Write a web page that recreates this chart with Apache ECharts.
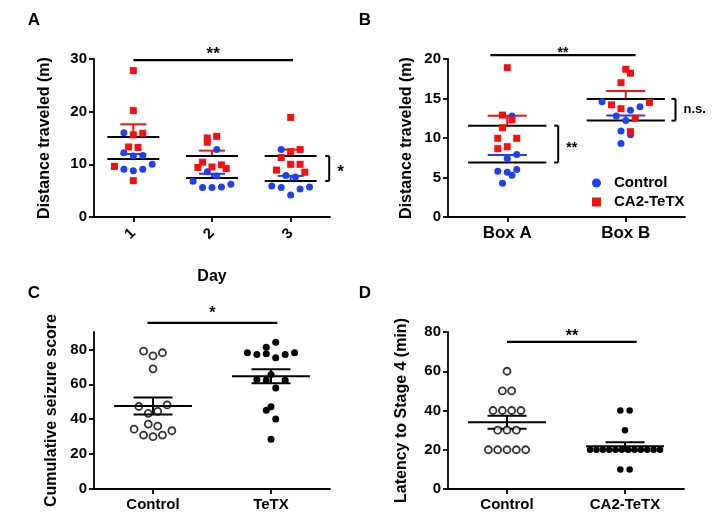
<!DOCTYPE html>
<html><head><meta charset="utf-8">
<script src="https://cdn.jsdelivr.net/npm/echarts@6/dist/echarts.min.js"></script>
<style>html,body{margin:0;padding:0;background:#fff}#c{width:724px;height:528px}</style>
</head><body><div id="c"></div>
<script>
const FONT = '"Liberation Sans", Arial, Helvetica, sans-serif';
const BLUE = '#1f3ff5', RED = '#f50f0f', BLACK = '#000';

// ---------- Panel A : distance traveled per day ----------
const daysA = ['1', '2', '3'];
const aCtrl = [
  [16.0, 12.2, 11.6, 11.7, 10.0, 9.05, 8.8, 9.05],
  [12.8, 8.6, 7.8, 6.8, 5.6, 5.6, 5.7, 6.2],
  [12.8, 7.9, 7.6, 5.9, 5.6, 4.2, 5.3, 5.7]
];
const aCtrlSlot = [
  [-1, -1, 0, 1, 2, -1, 0, 1],
  [0.5, -0.5, 0.5, -2, -1, 0, 1, 2],
  [-1, -0.5, 0.5, -2, -1, 0, 1, 2]
];
const aTetx = [
  [27.8, 20.2, 15.6, 15.9, 13.3, 13.2, 9.6, 6.9],
  [15.0, 14.2, 15.3, 10.4, 9.5, 9.9, 9.4, 9.2],
  [18.9, 12.8, 12.4, 11.3, 10.0, 10.0, 8.9, 8.5]
];
const aTetxSlot = [
  [0, 0, 0, 1, -0.5, 0.5, -2, 0],
  [-0.5, -0.5, 0.5, -1, 0, 1, -1.5, 1.5],
  [0, 1, 0, -1, 0, 1, -1.5, 1.5]
];
const aCtrlMean = [11.0, 7.4, 6.85], aCtrlSem = [0.95, 0.8, 0.95];
const aTetxMean = [15.2, 11.6, 11.6], aTetxSem = [2.4, 1.0, 1.2];

// ---------- Panel B : distance per box ----------
const boxesB = ['Box A', 'Box B'];
const bCtrl = [
  [12.8, 7.4, 7.9, 5.8, 5.65, 5.3, 6.0, 4.26],
  [14.6, 13.96, 13.5, 12.8, 12.2, 10.9, 10.4, 9.3]
];
const bCtrlSlot = [
  [0.5, 0, 1, -1, 0, 0.5, 1, -0.5],
  [-2.5, 1.5, 0.5, -1, 0, -0.5, 0.5, -0.5]
];
const bTetx = [
  [18.9, 12.9, 12.3, 11.3, 9.96, 9.96, 8.65, 8.9],
  [18.7, 18.2, 17.0, 14.5, 14.2, 13.7, 12.5, 10.8]
];
const bTetxSlot = [
  [0, -0.5, 0.5, -0.5, -1, 1, -1, 0],
  [0, 0.5, -0.5, 2.5, -1.5, -0.5, 1, 0.5]
];
const bCtrlMean = [6.9, 12.2], bCtrlSem = [0.95, 0.65];
const bTetxMean = [11.56, 14.95], bTetxSem = [1.25, 1.0];

// ---------- Panel C : cumulative seizure score ----------
const groupsC = ['Control', 'TeTX'];
const cCtrl = [79.0, 76.3, 78.1, 68.9, 47.3, 48.2, 43.4, 44.5, 37.2, 36.1, 34.3, 30.9, 30.0, 30.9, 33.4];
const cCtrlSlot = [-1, 0, 1, 0, -1.5, 1.5, -0.5, 0.5, -0.5, 0.5, -2, -1, 0, 1, 2];
const cTetx = [84.1, 81.3, 78.1, 77.1, 77.5, 75.2, 77.1, 78.1, 65.7, 62.8, 62.3, 62.3, 57.9, 47.1, 45.2, 40.1, 28.5];
const cTetxSlot = [0.5, -0.5, -2.5, -1.5, -0.5, 0.5, 1.5, 2.5, 0, -1.5, -0.5, 1.5, 0.5, 0, -0.5, 0.5, 0];
const cMean = [47.6, 64.6], cSem = [4.85, 4.05];

// ---------- Panel D : latency to stage 4 ----------
const groupsD = ['Control', 'CA2-TeTX'];
const dCtrl = [60, 50, 50, 40, 40, 40, 40, 30, 30, 30, 20, 20, 20, 20, 20];
const dCtrlSlot = [0, -0.5, 0.5, -1.5, -0.5, 0.5, 1.5, -1, 0, 1, -2, -1, 0, 1, 2];
const dTetx = [40, 40, 30, 20, 20, 20, 20, 20, 20, 20, 20, 20, 20, 20, 20, 10, 10];
const dTetxSlot = [-0.5, 0.5, 0, -3.75, -3.07, -2.39, -1.7, -1.02, -0.34, 0.34, 1.02, 1.7, 2.39, 3.07, 3.75, -0.5, 0.5];
const dMean = [34.0, 21.8], dSem = [3.35, 2.0];

// ---------- helpers ----------
function pts(cat, vals, slots, step) { return vals.map((v, i) => [cat + slots[i] * step, v]); }

function xAx(gi, cats, fontSize, margin, extra) {
  const idx = cats.map((_, i) => i);
  return Object.assign({
    type: 'value', gridIndex: gi, min: -0.5, max: cats.length - 0.5,
    axisLine: { show: true, onZero: false, lineStyle: { color: BLACK, width: 1.8 } },
    axisTick: { show: true, customValues: idx, length: 5, lineStyle: { color: BLACK, width: 1.8 } },
    axisLabel: { customValues: idx, formatter: v => cats[Math.round(v)], color: BLACK, fontWeight: 'bold',
      fontSize: fontSize, fontFamily: FONT, margin: margin },
    splitLine: { show: false }
  }, extra || {});
}
function yAx(gi, max, interval, ticks, name, nameGap) {
  return {
    type: 'value', gridIndex: gi, min: 0, max: max, interval: interval,
    name: name, nameLocation: 'middle', nameGap: nameGap, nameRotate: 90,
    nameTextStyle: { color: BLACK, fontWeight: 'bold', fontSize: 16, fontFamily: FONT },
    axisLine: { show: true, onZero: false, lineStyle: { color: BLACK, width: 1.8 } },
    axisTick: { show: true, customValues: ticks, length: 5, lineStyle: { color: BLACK, width: 1.8 } },
    axisLabel: { customValues: ticks, color: BLACK, fontWeight: 'bold', fontSize: 15, fontFamily: FONT, margin: 7 },
    splitLine: { show: false }
  };
}
function scatter(gi, name, data, symbol, size, color, opts) {
  return Object.assign({
    type: 'scatter', name: name, xAxisIndex: gi, yAxisIndex: gi, data: data,
    symbol: symbol, symbolSize: size, itemStyle: { color: color, opacity: 1 }, z: 5, silent: true
  }, opts || {});
}
// mean line (black) + SEM bar (upward only, coloured) or both ways (black)
function meanSem(gi, means, sems, color, both, z) {
  return {
    type: 'custom', xAxisIndex: gi, yAxisIndex: gi, z: z, silent: true,
    data: means.map((m, i) => [i, m, sems[i]]),
    renderItem: function (params, api) {
      const c = api.value(0), m = api.value(1), s = api.value(2);
      const L = api.coord([c - 0.33, m]), R = api.coord([c + 0.33, m]);
      const ch = [];
      const st = { stroke: BLACK, lineWidth: 2 };
      const sc = { stroke: color, lineWidth: 2 };
      const tops = both ? [m + s, m - s] : [m + s];
      tops.forEach(t => {
        const p0 = api.coord([c, m]), p1 = api.coord([c, t]);
        const cl = api.coord([c - 0.165, t]), cr = api.coord([c + 0.165, t]);
        ch.push({ type: 'line', shape: { x1: p0[0], y1: p0[1], x2: p1[0], y2: p1[1] }, style: sc });
        ch.push({ type: 'line', shape: { x1: cl[0], y1: cl[1], x2: cr[0], y2: cr[1] }, style: sc });
      });
      ch.push({ type: 'line', shape: { x1: L[0], y1: L[1], x2: R[0], y2: R[1] }, style: st });
      return { type: 'group', children: ch };
    }
  };
}
// significance bar across groups
function sigBar(gi, x1, x2, y, label, fs, dy) {
  return {
    type: 'custom', xAxisIndex: gi, yAxisIndex: gi, z: 10, silent: true, clip: false,
    data: [[x1, x2, y]],
    renderItem: function (params, api) {
      const a = api.coord([api.value(0), api.value(2)]), b = api.coord([api.value(1), api.value(2)]);
      return { type: 'group', children: [
        { type: 'line', shape: { x1: a[0], y1: a[1], x2: b[0], y2: b[1] }, style: { stroke: BLACK, lineWidth: 2.2 } },
        { type: 'text', x: (a[0] + b[0]) / 2, y: a[1] - dy, style: { text: label, fill: BLACK, font: 'bold ' + fs + 'px ' + FONT, textAlign: 'center', textVerticalAlign: 'middle' } }
      ] };
    }
  };
}
// vertical bracket between two means
function bracket(gi, x, yTop, yBot, label, fs, tick) {
  return {
    type: 'custom', xAxisIndex: gi, yAxisIndex: gi, z: 10, silent: true, clip: false,
    data: [[x, yTop, yBot]],
    renderItem: function (params, api) {
      const t = api.coord([api.value(0), api.value(1)]), b = api.coord([api.value(0), api.value(2)]);
      const st = { stroke: BLACK, lineWidth: 2 };
      return { type: 'group', children: [
        { type: 'line', shape: { x1: t[0], y1: t[1], x2: b[0], y2: b[1] }, style: st },
        { type: 'line', shape: { x1: t[0] - tick, y1: t[1], x2: t[0], y2: t[1] }, style: st },
        { type: 'line', shape: { x1: b[0] - tick, y1: b[1], x2: b[0], y2: b[1] }, style: st },
        { type: 'text', x: t[0] + 8, y: (t[1] + b[1]) / 2 + (label.indexOf('*') >= 0 ? 4 : 0), style: { text: label, fill: BLACK, font: 'bold ' + fs + 'px ' + FONT, textAlign: 'left', textVerticalAlign: 'middle' } }
      ] };
    }
  };
}

const stepA = 0.12, stepB = 0.08, stepC = 0.08, stepD = 0.079;
const series = [];
// Panel A
daysA.forEach((d, i) => {
  series.push(scatter(0, 'Control', pts(i, aCtrl[i], aCtrlSlot[i], stepA), 'circle', 7, BLUE));
  series.push(scatter(0, 'CA2-TeTX', pts(i, aTetx[i], aTetxSlot[i], stepA), 'rect', 7, RED));
});
series.push(meanSem(0, aCtrlMean, aCtrlSem, BLUE, false, 3));
series.push(meanSem(0, aTetxMean, aTetxSem, RED, false, 3));
series.push(sigBar(0, 0, 2.03, 29.8, '**', 17, 6));
series.push(bracket(0, 2.49, aTetxMean[2], aCtrlMean[2], '*', 17, 4));
// Panel B
boxesB.forEach((d, i) => {
  series.push(scatter(1, 'Control', pts(i, bCtrl[i], bCtrlSlot[i], stepB), 'circle', 7, BLUE));
  series.push(scatter(1, 'CA2-TeTX', pts(i, bTetx[i], bTetxSlot[i], stepB), 'rect', 7, RED));
});
series.push(meanSem(1, bCtrlMean, bCtrlSem, BLUE, false, 3));
series.push(meanSem(1, bTetxMean, bTetxSem, RED, false, 3));
series.push(sigBar(1, -0.143, 1.083, 20.5, '**', 14, 2));
series.push(bracket(1, 0.43, bTetxMean[0], bCtrlMean[0], '**', 14, 4));
series.push(bracket(1, 1.42, bTetxMean[1], bCtrlMean[1], 'n.s.', 13, 4));
// Panel C
series.push(scatter(2, 'Control C', pts(0, cCtrl, cCtrlSlot, stepC), 'circle', 7, '#fff', { itemStyle: { color: '#fff', borderColor: BLACK, borderWidth: 1.8 } }));
series.push(scatter(2, 'TeTX C', pts(1, cTetx, cTetxSlot, stepC), 'circle', 7, BLACK));
series.push(meanSem(2, cMean, cSem, BLACK, true, 6));
series.push(sigBar(2, -0.047, 1.054, 95.2, '*', 16, 9));
// Panel D
series.push(scatter(3, 'Control D', pts(0, dCtrl, dCtrlSlot, stepD), 'circle', 7, '#fff', { itemStyle: { color: '#fff', borderColor: BLACK, borderWidth: 1.8 } }));
series.push(scatter(3, 'CA2-TeTX D', pts(1, dTetx, dTetxSlot, stepD), 'circle', 6.5, BLACK));
series.push(meanSem(3, dMean, dSem, BLACK, true, 4));
series.push(sigBar(3, 0, 1.1, 75, '**', 16, 5));

const letter = (t, x, y) => ({ type: 'text', x: x, y: y, style: { text: t, fill: BLACK, font: 'bold 17px ' + FONT, textAlign: 'center', textVerticalAlign: 'middle' } });

const option = {
  backgroundColor: '#fff',
  animation: false,
  grid: [
    { left: 94, top: 59, width: 236, height: 158 },
    { left: 448, top: 59, width: 237, height: 158 },
    { left: 94, top: 332, width: 236, height: 157 },
    { left: 448, top: 332, width: 236, height: 157 }
  ],
  xAxis: [
    xAx(0, daysA, 15, 14, { name: 'Day', nameLocation: 'middle', nameGap: 52,
      nameTextStyle: { color: BLACK, fontWeight: 'bold', fontSize: 16, fontFamily: FONT } }),
    xAx(1, boxesB, 17, 8),
    xAx(2, groupsC, 15, 8),
    xAx(3, groupsD, 15, 8)
  ],
  yAxis: [
    yAx(0, 30, 10, [0, 10, 20, 30], 'Distance traveled (m)', 41),
    yAx(1, 20, 5, [0, 5, 10, 15, 20], 'Distance traveled (m)', 33),
    yAx(2, 90, 10, [0, 20, 40, 60, 80], 'Cumulative seizure score', 34),
    yAx(3, 80, 20, [0, 20, 40, 60, 80], 'Latency to Stage 4 (min)', 38)
  ],
  legend: {
    show: true, orient: 'vertical', left: 587, top: 169, itemWidth: 9, itemHeight: 9, itemGap: 1,
    selectedMode: false,
    data: [{ name: 'Control', icon: 'circle' }, { name: 'CA2-TeTX', icon: 'rect' }],
    textStyle: { color: BLACK, fontWeight: 'bold', fontSize: 15, fontFamily: FONT, lineHeight: 18, padding: [0, 0, 0, 8] }
  },
  graphic: [letter('A', 34, 20), letter('B', 365, 20), letter('C', 34, 293), letter('D', 365, 293)],
  series: series
};
// A x labels rotated
option.xAxis[0].axisLabel.rotate = 45;
const chart = echarts.init(document.getElementById('c'));
chart.setOption(option);
</script></body></html>
